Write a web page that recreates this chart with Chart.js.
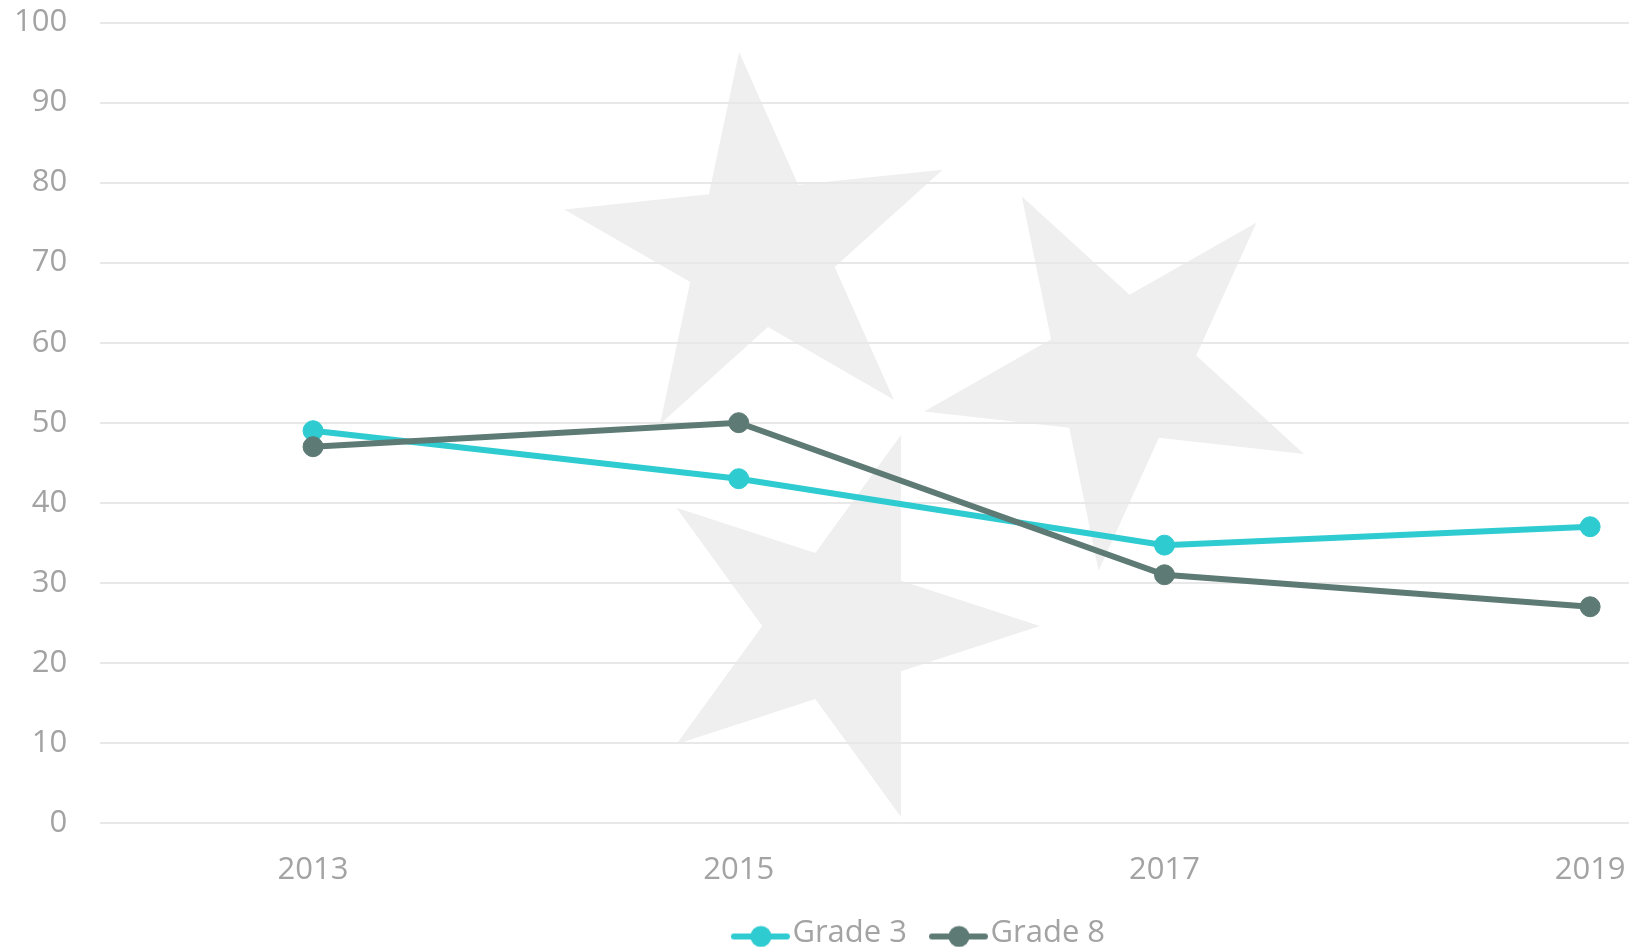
<!DOCTYPE html>
<html>
<head>
<meta charset="utf-8">
<script src="https://cdn.jsdelivr.net/npm/chart.js@4"></script>
<style>
  html, body { margin: 0; padding: 0; background: #fff; overflow: hidden; }
  /* the original chart is wider than the window, so it is cropped on the right */
  canvas { display: block; margin-left: -19px; margin-top: -29px; }
</style>
</head>
<body>
<canvas id="line-chart" width="1853" height="988"></canvas>
<script>
// data
const years = ['2013', '2015', '2017', '2019'];
const grade3 = [49, 43, 34.7, 37];
const grade8 = [47, 50, 31, 27];
const yMin = 0;
const yMax = 100;
const yStep = 10;

const tealColor = '#2ecbd1';
const slateColor = '#5e7a75';
const textColor = '#a3a3a3';
const fontFamily = '"Open Sans", "Noto Sans", sans-serif';
const fontSize = 31;

/* =============================== */
/* legend icon: line with a dot */
/* =============================== */
function legendIcon(color) {
  const c = document.createElement('canvas');
  c.width = 98;
  c.height = 32;
  const ctx = c.getContext('2d');
  ctx.strokeStyle = color;
  ctx.lineWidth = 6;
  ctx.lineCap = 'round';
  ctx.beginPath();
  ctx.moveTo(40, 19);
  ctx.lineTo(93, 19);
  ctx.stroke();
  ctx.fillStyle = color;
  ctx.beginPath();
  ctx.arc(67, 19, 10.5, 0, Math.PI * 2);
  ctx.fill();
  return c;
}
const icons = [legendIcon(tealColor), legendIcon(slateColor)];

/* =============================== */
/* watermark stars behind the plot */
/* =============================== */
const stars = [
  { x: 779, y: 280, r: 200, a: -96 },
  { x: 1140, y: 400, r: 201, a: -119.6 },
  { x: 858, y: 655, r: 201, a: 0 }
];
const starsBg = {
  id: 'starsBg',
  beforeDraw(chart) {
    const ctx = chart.ctx;
    ctx.save();
    ctx.fillStyle = '#efefef';
    stars.forEach(function (s) {
      ctx.beginPath();
      for (let i = 0; i < 10; i++) {
        const rad = (s.a + i * 36) * Math.PI / 180;
        const rr = i % 2 === 0 ? s.r : s.r * 0.382;
        const px = s.x + rr * Math.cos(rad);
        const py = s.y + rr * Math.sin(rad);
        if (i === 0) ctx.moveTo(px, py); else ctx.lineTo(px, py);
      }
      ctx.closePath();
      ctx.fill();
    });
    ctx.restore();
  }
};

// nudge the legend row so it sits where the original had it
const legendNudge = {
  id: 'legendNudge',
  afterLayout(chart) {
    chart.legend.left += 15;
    chart.legend.right += 15;
  }
};

new Chart(document.getElementById('line-chart'), {
  type: 'line',
  data: {
    labels: years,
    datasets: [{
      label: 'Grade 3',
      data: grade3,
      borderColor: tealColor,
      backgroundColor: tealColor,
      borderWidth: 6,
      pointRadius: 10,
      pointBorderWidth: 1,
      tension: 0,
      fill: false,
      order: 2
    }, {
      label: 'Grade 8',
      data: grade8,
      borderColor: slateColor,
      backgroundColor: slateColor,
      borderWidth: 6,
      pointRadius: 10,
      pointBorderWidth: 1,
      tension: 0,
      fill: false,
      order: 1
    }]
  },
  options: {
    responsive: false,
    animation: false,
    devicePixelRatio: 1,
    layout: { padding: { left: 0, right: 31, top: 0, bottom: 0 } },
    scales: {
      x: {
        offset: true,
        grid: { display: false, drawTicks: false },
        border: { display: false },
        ticks: { color: textColor, padding: 29, font: { family: fontFamily, size: fontSize } }
      },
      y: {
        min: yMin,
        max: yMax,
        grid: { color: '#e8e8e8', lineWidth: 2, drawTicks: false },
        border: { display: false },
        ticks: { stepSize: yStep, color: textColor, padding: 33, font: { family: fontFamily, size: fontSize } }
      }
    },
    plugins: {
      tooltip: { enabled: false },
      legend: {
        position: 'bottom',
        reverse: true,
        labels: {
          usePointStyle: true,
          pointStyleWidth: 68,
          padding: 0,
          color: textColor,
          font: { family: fontFamily, size: fontSize },
          generateLabels(chart) {
            const items = Chart.defaults.plugins.legend.labels.generateLabels(chart);
            items.forEach(function (it) { it.pointStyle = icons[it.datasetIndex]; });
            return items;
          }
        }
      }
    }
  },
  plugins: [starsBg, legendNudge]
});
</script>
</body>
</html>
